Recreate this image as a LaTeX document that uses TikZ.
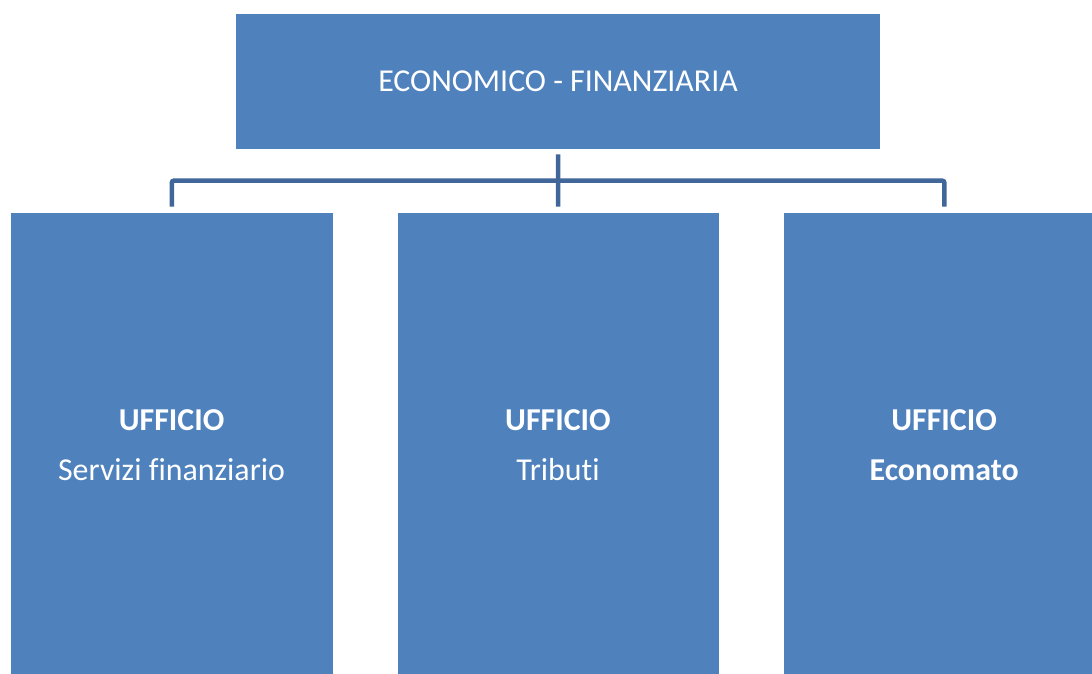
\documentclass[tikz,border=0pt]{standalone}
\usepackage{fontspec}
\setmainfont[Ligatures=NoCommon]{Carlito}
\definecolor{boxblue}{HTML}{4F81BD}
\definecolor{lineblue}{HTML}{41679A}
\begin{document}
\begin{tikzpicture}[x=1bp,y=-1bp,
  box/.style={fill=boxblue,draw=none,inner sep=0pt,anchor=north west},
  lbl/.style={text=white,font=\fontsize{32}{38}\selectfont,anchor=base},
  blbl/.style={lbl,font=\fontsize{32}{38}\selectfont\bfseries},
  conn/.style={draw=lineblue,line width=4.5bp}]
\useasboundingbox (0,0) rectangle (1092,674);
\clip (0,0) rectangle (1092,674);
\node[box,minimum width=644bp,minimum height=134.2bp] (top) at (236,14.3) {};
\node[box,minimum width=322.2bp,minimum height=480bp] (b1) at (10.5,212.7) {};
\node[box,minimum width=321.4bp,minimum height=480bp] (b2) at (397.3,212.7) {};
\node[box,minimum width=321.7bp,minimum height=480bp] (b3) at (783.3,212.7) {};
\node[lbl] (ttop) at (558,91.5) {ECONOMICO - FINANZIARIA};
\node[blbl] (u1) at (171.6,430) {UFFICIO};
\node[lbl] (s1) at (171.6,480) {Servizi finanziario};
\node[blbl] (u2) at (558,430) {UFFICIO};
\node[lbl] (s2) at (558,480) {Tributi};
\node[blbl] (u3) at (944.1,430) {UFFICIO};
\node[blbl] (s3) at (944.1,480) {Economato};
\coordinate (bus) at (558,180.7);
\draw[conn] ([yshift=-5.5bp]top.south) -- ([yshift=6bp]b2.north);
\draw[conn,rounded corners=2bp] ([yshift=6bp]b1.north) |- (bus) -| ([yshift=6bp]b3.north);
\end{tikzpicture}
\end{document}
